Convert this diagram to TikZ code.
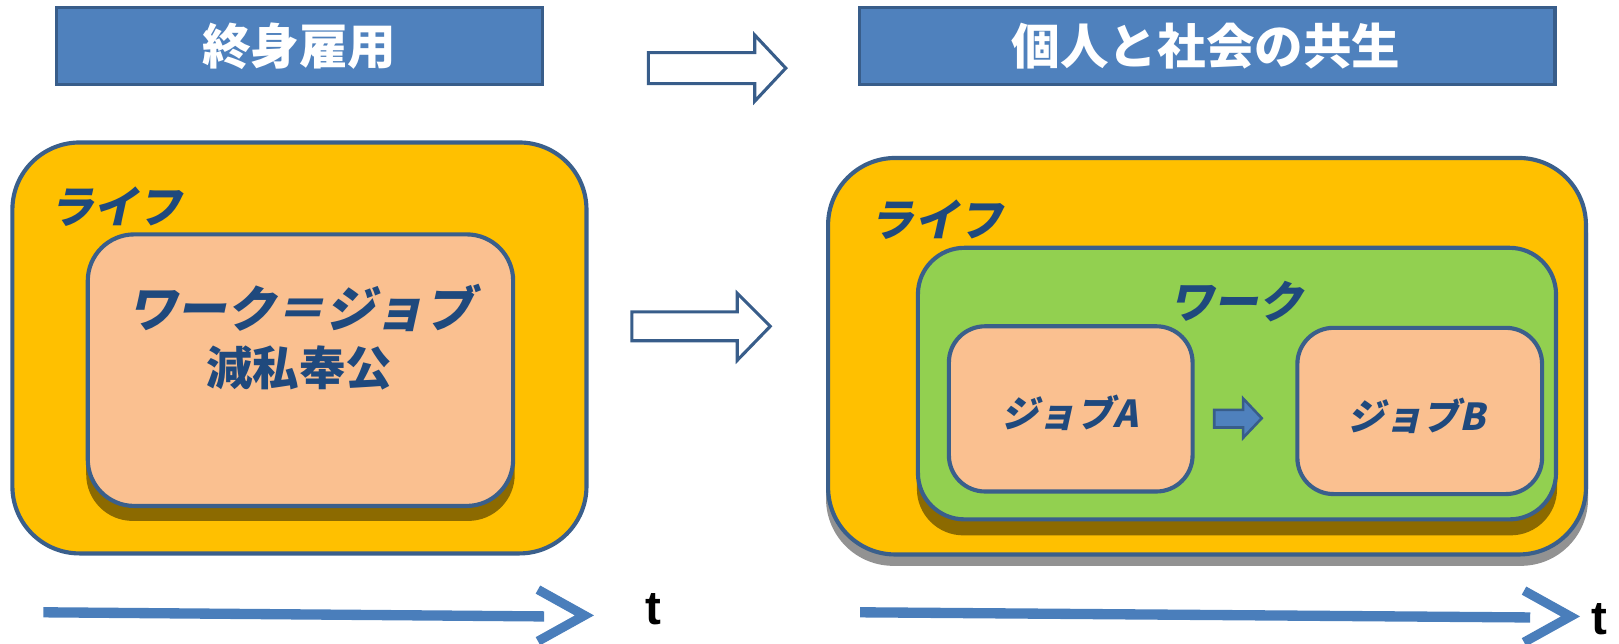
\documentclass[tikz,border=0pt]{standalone}
\usepackage{fontspec}
\setsansfont{Liberation Sans}
\newfontfamily\jp{Noto Sans CJK JP}
\newfontfamily\jpsl{Noto Sans CJK JP}[FakeSlant=0.22, BoldFeatures={FakeSlant=0.22}]
\usetikzlibrary{calc}
\definecolor{titlefill}{HTML}{4F81BD}
\definecolor{titleedge}{HTML}{385D8A}
\definecolor{edge}{HTML}{3A5F8B}
\definecolor{gold}{HTML}{FFC000}
\definecolor{peach}{HTML}{FAC090}
\definecolor{leaf}{HTML}{92D050}
\definecolor{ink}{HTML}{1F497D}
\definecolor{shadowbrown}{HTML}{8C6A00}
\definecolor{shadowgrey}{HTML}{929292}
\definecolor{timeline}{HTML}{4A7EBB}
\begin{document}
\begin{tikzpicture}[x=1pt,y=-1pt,
  titlebox/.style={rectangle, draw=titleedge, fill=titlefill, line width=3pt, inner sep=0pt},
  titletext/.style={text=white, font=\jp\bfseries\fontsize{47}{47}\selectfont, inner sep=0pt},
  roundbox/.style={rectangle, draw=edge, line width=4pt, inner sep=0pt},
  shadowbox/.style={rectangle, draw=none, inner sep=0pt},
  label/.style={text=ink, font=\jpsl\bfseries\fontsize{43}{43}\selectfont, inner sep=0pt},
  kanjilabel/.style={text=ink, font=\jp\bfseries\fontsize{45}{45}\selectfont, inner sep=0pt},
  joblabel/.style={text=ink, font=\jpsl\bfseries\fontsize{36}{36}\selectfont, inner sep=0pt},
  hollow/.style={draw=titleedge, fill=white, line width=3pt, line join=miter},
  blockarrow/.style={draw=titleedge, fill=titlefill, line width=2.5pt, line join=miter},
  timeaxis/.style={draw=timeline, line width=10pt},
  chevron/.style={draw=timeline, line width=9pt, line join=miter},
  tlabel/.style={font=\sffamily\bfseries\fontsize{46}{46}\selectfont, inner sep=0pt}
]
\useasboundingbox (0,0) rectangle (1568,623);

% title boxes
\node[titlebox, minimum width=470pt, minimum height=75pt] (titleL) at (290,44.5) {};
\node[titletext] (titleLt) at (290,45) {終身雇用};
\node[titlebox, minimum width=674pt, minimum height=75pt] (titleR) at (1169,44.5) {};
\node[titletext] (titleRt) at (1168,45) {個人と社会の共生};

% hollow arrows
\draw[hollow] (628,51) -- (731,51) -- (731,34) -- (761,66) -- (731,98) -- (731,81) -- (628,81) -- cycle;
\draw[hollow] (612,302) -- (714,302) -- (714,284) -- (746,316) -- (714,349) -- (714,330) -- (612,330) -- cycle;

% left life box
\node[roundbox, fill=gold, rounded corners=65pt, minimum width=556pt, minimum height=398pt] (lifeL) at (290,337) {};
\node[label] (lifeLt) at (112,200) {ライフ};
\node[shadowbox, fill=shadowbrown, rounded corners=45pt, minimum width=415pt, minimum height=265pt] (workLs) at (291,372) {};
\node[roundbox, fill=peach, rounded corners=45pt, minimum width=412pt, minimum height=263pt] (workL) at (291,358.5) {};
\node[label, font=\jpsl\bfseries\fontsize{48}{48}\selectfont] (workLt) at (291,298) {ワーク＝ジョブ};
\node[kanjilabel] (workLk) at (290,356) {減私奉公};

% right life box
\node[shadowbox, fill=shadowgrey, rounded corners=65pt, minimum width=738pt, minimum height=386pt] (lifeRs) at (1169,355) {};
\node[roundbox, fill=gold, rounded corners=65pt, minimum width=734pt, minimum height=384pt] (lifeR) at (1169,345) {};
\node[label] (lifeRt) at (907,213) {ライフ};
\node[shadowbox, fill=shadowbrown, rounded corners=45pt, minimum width=620pt, minimum height=265pt] (workRs) at (1198,386) {};
\node[roundbox, fill=leaf, rounded corners=45pt, minimum width=618pt, minimum height=263pt] (workR) at (1198,371.5) {};
\node[label] (workRt) at (1197,292) {ワーク};
\node[roundbox, fill=peach, rounded corners=35pt, minimum width=236pt, minimum height=160pt] (jobA) at (1037,396) {};
\node[joblabel] (jobAt) at (1036,400) {ジョブA};
\node[roundbox, fill=peach, rounded corners=35pt, minimum width=237pt, minimum height=161pt] (jobB) at (1375,398) {};
\node[joblabel] (jobBt) at (1372,403) {ジョブB};
\draw[blockarrow] (1176,397) -- (1204,397) -- (1204,386) -- (1222,405) -- (1204,424) -- (1204,414) -- (1176,414) -- cycle;

% time axes
\coordinate (tLa) at (42,593);
\coordinate (tLb) at (527,597);
\coordinate (tLtip) at (566,596);
\draw[timeaxis] (tLa) -- (tLb);
\draw[chevron] ($(tLtip)+(-45,-25)$) -- (tLtip) -- ($(tLtip)+(-45,25)$);
\node[tlabel] (tL) at (633,590) {t};

\coordinate (tRa) at (833,593);
\coordinate (tRb) at (1482,598);
\coordinate (tRtip) at (1521,597);
\draw[timeaxis] (tRa) -- (tRb);
\draw[chevron] ($(tRtip)+(-45,-25)$) -- (tRtip) -- ($(tRtip)+(-45,25)$);
\node[tlabel] (tR) at (1549,600) {t};
\end{tikzpicture}
\end{document}
